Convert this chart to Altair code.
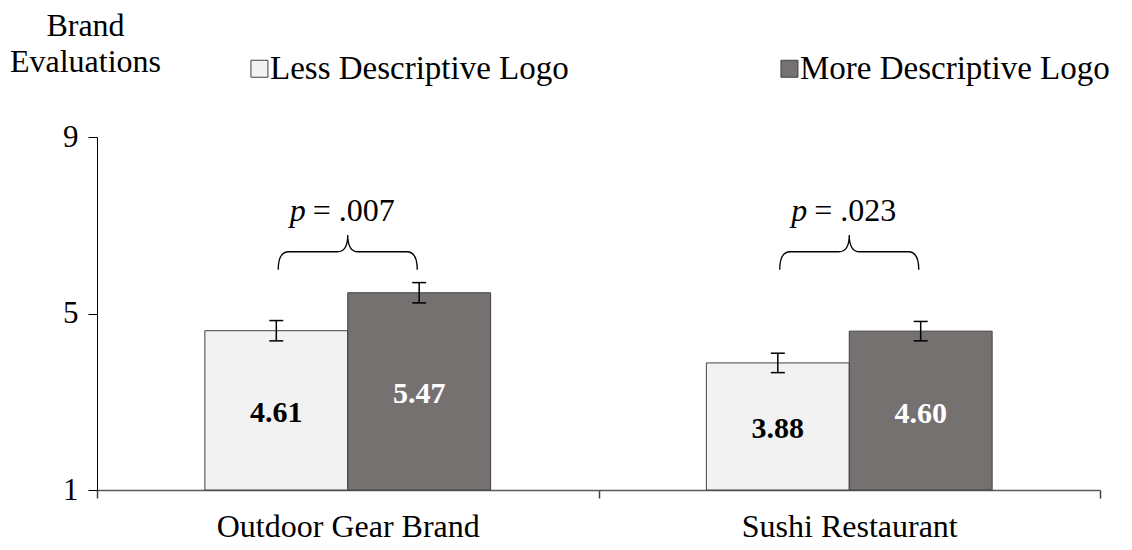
import altair as alt
import pandas as pd

# ---- data ----
categories = ["Outdoor Gear Brand", "Outdoor Gear Brand", "Sushi Restaurant", "Sushi Restaurant"]
groups = ["Less Descriptive Logo", "More Descriptive Logo", "Less Descriptive Logo", "More Descriptive Logo"]
means = [4.61, 5.47, 3.88, 4.60]
errors = [0.23, 0.23, 0.22, 0.22]
value_labels = ["4.61", "5.47", "3.88", "4.60"]

cat_order = ["Outdoor Gear Brand", "Sushi Restaurant"]
group_order = ["Less Descriptive Logo", "More Descriptive Logo"]
fills = ["#F2F2F2", "#767171"]

brace_categories = ["Outdoor Gear Brand", "Sushi Restaurant"]
p_texts = ["= .007", "= .023"]
brace_level = [6.4, 6.4]
p_level = [7.1, 7.1]

y_ticks = [1, 5, 9]

FONT = "Liberation Serif"

df = pd.DataFrame({"category": categories, "group": groups, "mean": means,
                   "err": errors, "label": value_labels})
ann = pd.DataFrame({"category": brace_categories, "ptext": p_texts,
                    "brace": brace_level, "plevel": p_level})

x_enc = alt.X("category:N", sort=cat_order,
              scale=alt.Scale(paddingInner=0, paddingOuter=0),
              axis=alt.Axis(title=None, labelAngle=0, tickBand="extent", labelLimit=0,
                            labelFont=FONT, labelFontSize=32, labelColor="black",
                            labelPadding=13, tickSize=8, tickColor="#404040",
                            domainColor="#595959", domainWidth=1.5, tickWidth=1.5,
                            grid=False))
xo_enc = alt.XOffset("group:N", sort=group_order,
                     scale=alt.Scale(paddingInner=0, paddingOuter=0.755))
y_scale = alt.Scale(domain=[1, 9], nice=False, zero=False)

# legend swatch: a square drawn toward the label side of its slot
swatch_path = "M -0.3 -1 H 1.7 V 1 H -0.3 Z"

base = alt.Chart(df)

bars = base.mark_bar(stroke="#404040", strokeWidth=1).encode(
    x=x_enc,
    xOffset=xo_enc,
    y=alt.Y("mean:Q", scale=y_scale,
            axis=alt.Axis(values=y_ticks, title=["Brand", "Evaluations"],
                          titleAngle=0, titleAlign="center", titleBaseline="alphabetic",
                          titleX=-12, titleY=-102, titleFont=FONT, titleFontSize=32,
                          titleFontWeight="normal", titleLineHeight=36, titleColor="black",
                          labelFont=FONT, labelFontSize=31, labelColor="black",
                          labelPadding=10, tickSize=9, tickColor="black",
                          domainColor="black", grid=False)),
    y2=alt.datum(1),
    color=alt.Color("group:N", sort=group_order,
                    scale=alt.Scale(domain=group_order, range=fills),
                    legend=alt.Legend(title=None, orient="none", direction="horizontal",
                                      legendX=134, legendY=-85, symbolType=swatch_path,
                                      symbolSize=289, symbolStrokeColor="#404040",
                                      symbolStrokeWidth=1, symbolOpacity=1, labelLimit=0,
                                      symbolOffset=6,
                                      labelFont=FONT, labelFontSize=33, labelColor="black",
                                      labelOffset=0, columnPadding=192, padding=0)),
)

err_rule = base.transform_calculate(
    lo="datum.mean - datum.err", hi="datum.mean + datum.err"
).mark_rule(color="black", strokeWidth=1.5).encode(
    x=alt.X("category:N", sort=cat_order), xOffset=alt.XOffset("group:N", sort=group_order),
    y=alt.Y("lo:Q", scale=y_scale), y2="hi:Q")

err_lo = base.transform_calculate(lo="datum.mean - datum.err").mark_tick(
    orient="horizontal", size=14, thickness=1.5, color="black", opacity=1).encode(
    x=alt.X("category:N", sort=cat_order), xOffset=alt.XOffset("group:N", sort=group_order),
    y=alt.Y("lo:Q", scale=y_scale))
err_hi = base.transform_calculate(hi="datum.mean + datum.err").mark_tick(
    orient="horizontal", size=14, thickness=1.5, color="black", opacity=1).encode(
    x=alt.X("category:N", sort=cat_order), xOffset=alt.XOffset("group:N", sort=group_order),
    y=alt.Y("hi:Q", scale=y_scale))

vals = base.transform_calculate(mid="(datum.mean + 1) / 2").mark_text(
    font=FONT, fontSize=30, fontWeight="bold", baseline="middle", dy=3).encode(
    x=alt.X("category:N", sort=cat_order), xOffset=alt.XOffset("group:N", sort=group_order),
    y=alt.Y("mid:Q", scale=y_scale), text="label:N",
    color=alt.condition(alt.datum.group == "More Descriptive Logo",
                        alt.value("white"), alt.value("black")))

brace_path = ("M -1 0.26 Q -1 0 -0.85 0 L -0.15 0 Q 0 0 0 -0.24 "
              "Q 0 0 0.15 0 L 0.85 0 Q 1 0 1 0.26")
abase = alt.Chart(ann)
braces = abase.mark_point(shape=brace_path, size=139 * 139, filled=False,
                          color="black", strokeWidth=1.3, opacity=1).encode(
    x=alt.X("category:N", sort=cat_order), y=alt.Y("brace:Q", scale=y_scale))

p_italic = abase.mark_text(font=FONT, fontSize=32, fontStyle="italic", align="right",
                           baseline="alphabetic", dx=-42, color="black").encode(
    x=alt.X("category:N", sort=cat_order), y=alt.Y("plevel:Q", scale=y_scale),
    text=alt.value("p"))
p_rest = abase.mark_text(font=FONT, fontSize=32, align="left", baseline="alphabetic",
                         dx=-35, color="black").encode(
    x=alt.X("category:N", sort=cat_order), y=alt.Y("plevel:Q", scale=y_scale),
    text="ptext:N")

chart = alt.layer(bars, err_rule, err_lo, err_hi, vals, braces, p_italic, p_rest).properties(
    width=1003, height=353, autosize="none", background="white",
    padding={"left": 89, "top": 129, "right": 24, "bottom": 52},
).configure_view(stroke="transparent", strokeWidth=0).configure_axis(grid=False)

chart.save("out.html", embed_options={"renderer": "svg", "actions": False})
